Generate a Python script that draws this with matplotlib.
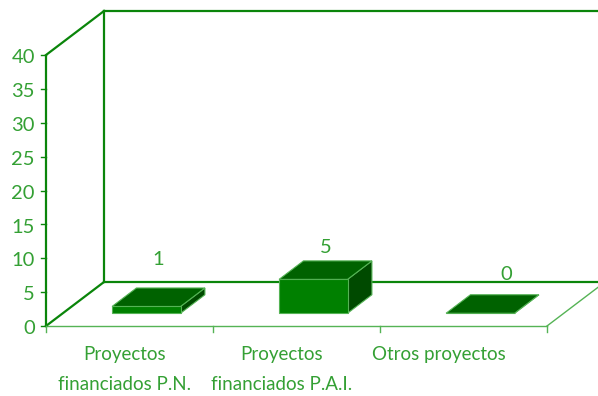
""" 3D-style bar chart of funded projects """

import matplotlib
matplotlib.use("Agg")
import matplotlib.pyplot as plt
from matplotlib.patches import Polygon

categories = ["Proyectos\nfinanciados P.N.", "Proyectos\nfinanciados P.A.I.", "Otros proyectos"]
values = [1, 5, 0]
y_ticks = [0, 5, 10, 15, 20, 25, 30, 35, 40]

# layout tweaks for the value labels (Excel puts them a bit unevenly)
label_dy = [5.9, 3.7, 4.7]
label_dx = [0.0, 0.0, 0.08]

line_col = "#0a850a"
light_col = "#55b355"
text_col = "#34a034"
front_col = "#008000"
top_col = "#006200"
side_col = "#004a00"

plt.rcParams["font.family"] = ["Lato", "DejaVu Sans"]

fig = plt.figure(figsize=(5.98, 3.96), dpi=100)
ax = fig.add_axes([0, 0, 1, 1])
ax.axis("off")

cat_px = 167.0
unit_px = 6.775
ax.set_xlim(-46 / cat_px, (598 - 46) / cat_px)
ax.set_ylim(-(396 - 326) / unit_px, 326 / unit_px)

ymax = y_ticks[-1]
n = len(categories)
ddx = 58 / cat_px      # depth of the floor
ddy = 44 / unit_px

# walls
ax.plot([0, 0], [0, ymax], color=line_col, lw=1.6, solid_capstyle="butt")
ax.plot([0, ddx], [ymax, ymax + ddy], color=line_col, lw=1.6)
ax.plot([0, ddx], [0, ddy], color=line_col, lw=1.6)
ax.plot([ddx, ddx], [ddy, ymax + ddy], color=line_col, lw=1.6)
ax.plot([ddx, n + ddx], [ymax + ddy, ymax + ddy], color=line_col, lw=1.6)
ax.plot([ddx, n + ddx], [ddy, ddy], color=line_col, lw=1.6)
ax.plot([n + ddx, n + ddx], [ddy, ymax + ddy], color=line_col, lw=1.6)
# floor
ax.plot([0, n], [0, 0], color=light_col, lw=1.0)
ax.plot([n, n + ddx], [0, ddy], color=light_col, lw=1.0)

# ticks
for t in y_ticks:
    ax.plot([-5 / cat_px, 0], [t, t], color=line_col, lw=1.0)
    ax.text(-11 / cat_px, t - 0.4, str(t), ha="right", va="center",
            color=text_col, fontsize=14.5)
for i in range(n + 1):
    ax.plot([i, i], [0, -6 / unit_px], color=light_col, lw=1.0)

for i, lab in enumerate(categories):
    ax.text((i + 0.5) * 0.94, -3.0, lab, ha="center", va="top",
            color=text_col, fontsize=13.5, linespacing=1.9)

# bars
w = 0.41
f0 = 0.29
bd = 0.42
for i, v in enumerate(values):
    xl = i + 0.5 - w / 2 + f0 * ddx
    xr = xl + w
    yb = f0 * ddy
    bx = bd * ddx
    by = bd * ddy
    front = [(xl, yb), (xr, yb), (xr, yb + v), (xl, yb + v)]
    top = [(xl, yb + v), (xr, yb + v), (xr + bx, yb + v + by), (xl + bx, yb + v + by)]
    side = [(xr, yb), (xr + bx, yb + by), (xr + bx, yb + v + by), (xr, yb + v)]
    for pts, c in [(side, side_col), (front, front_col), (top, top_col)]:
        ax.add_patch(Polygon(pts, closed=True, facecolor=c, edgecolor=light_col,
                             lw=0.8, zorder=3))
    ax.text(i + 0.5 + 0.5 * ddx + label_dx[i], yb + 0.5 * by + v + label_dy[i] - 0.3,
            str(v), ha="center", va="center", color=text_col, fontsize=14.5)

fig.savefig("out.png", dpi=100)
